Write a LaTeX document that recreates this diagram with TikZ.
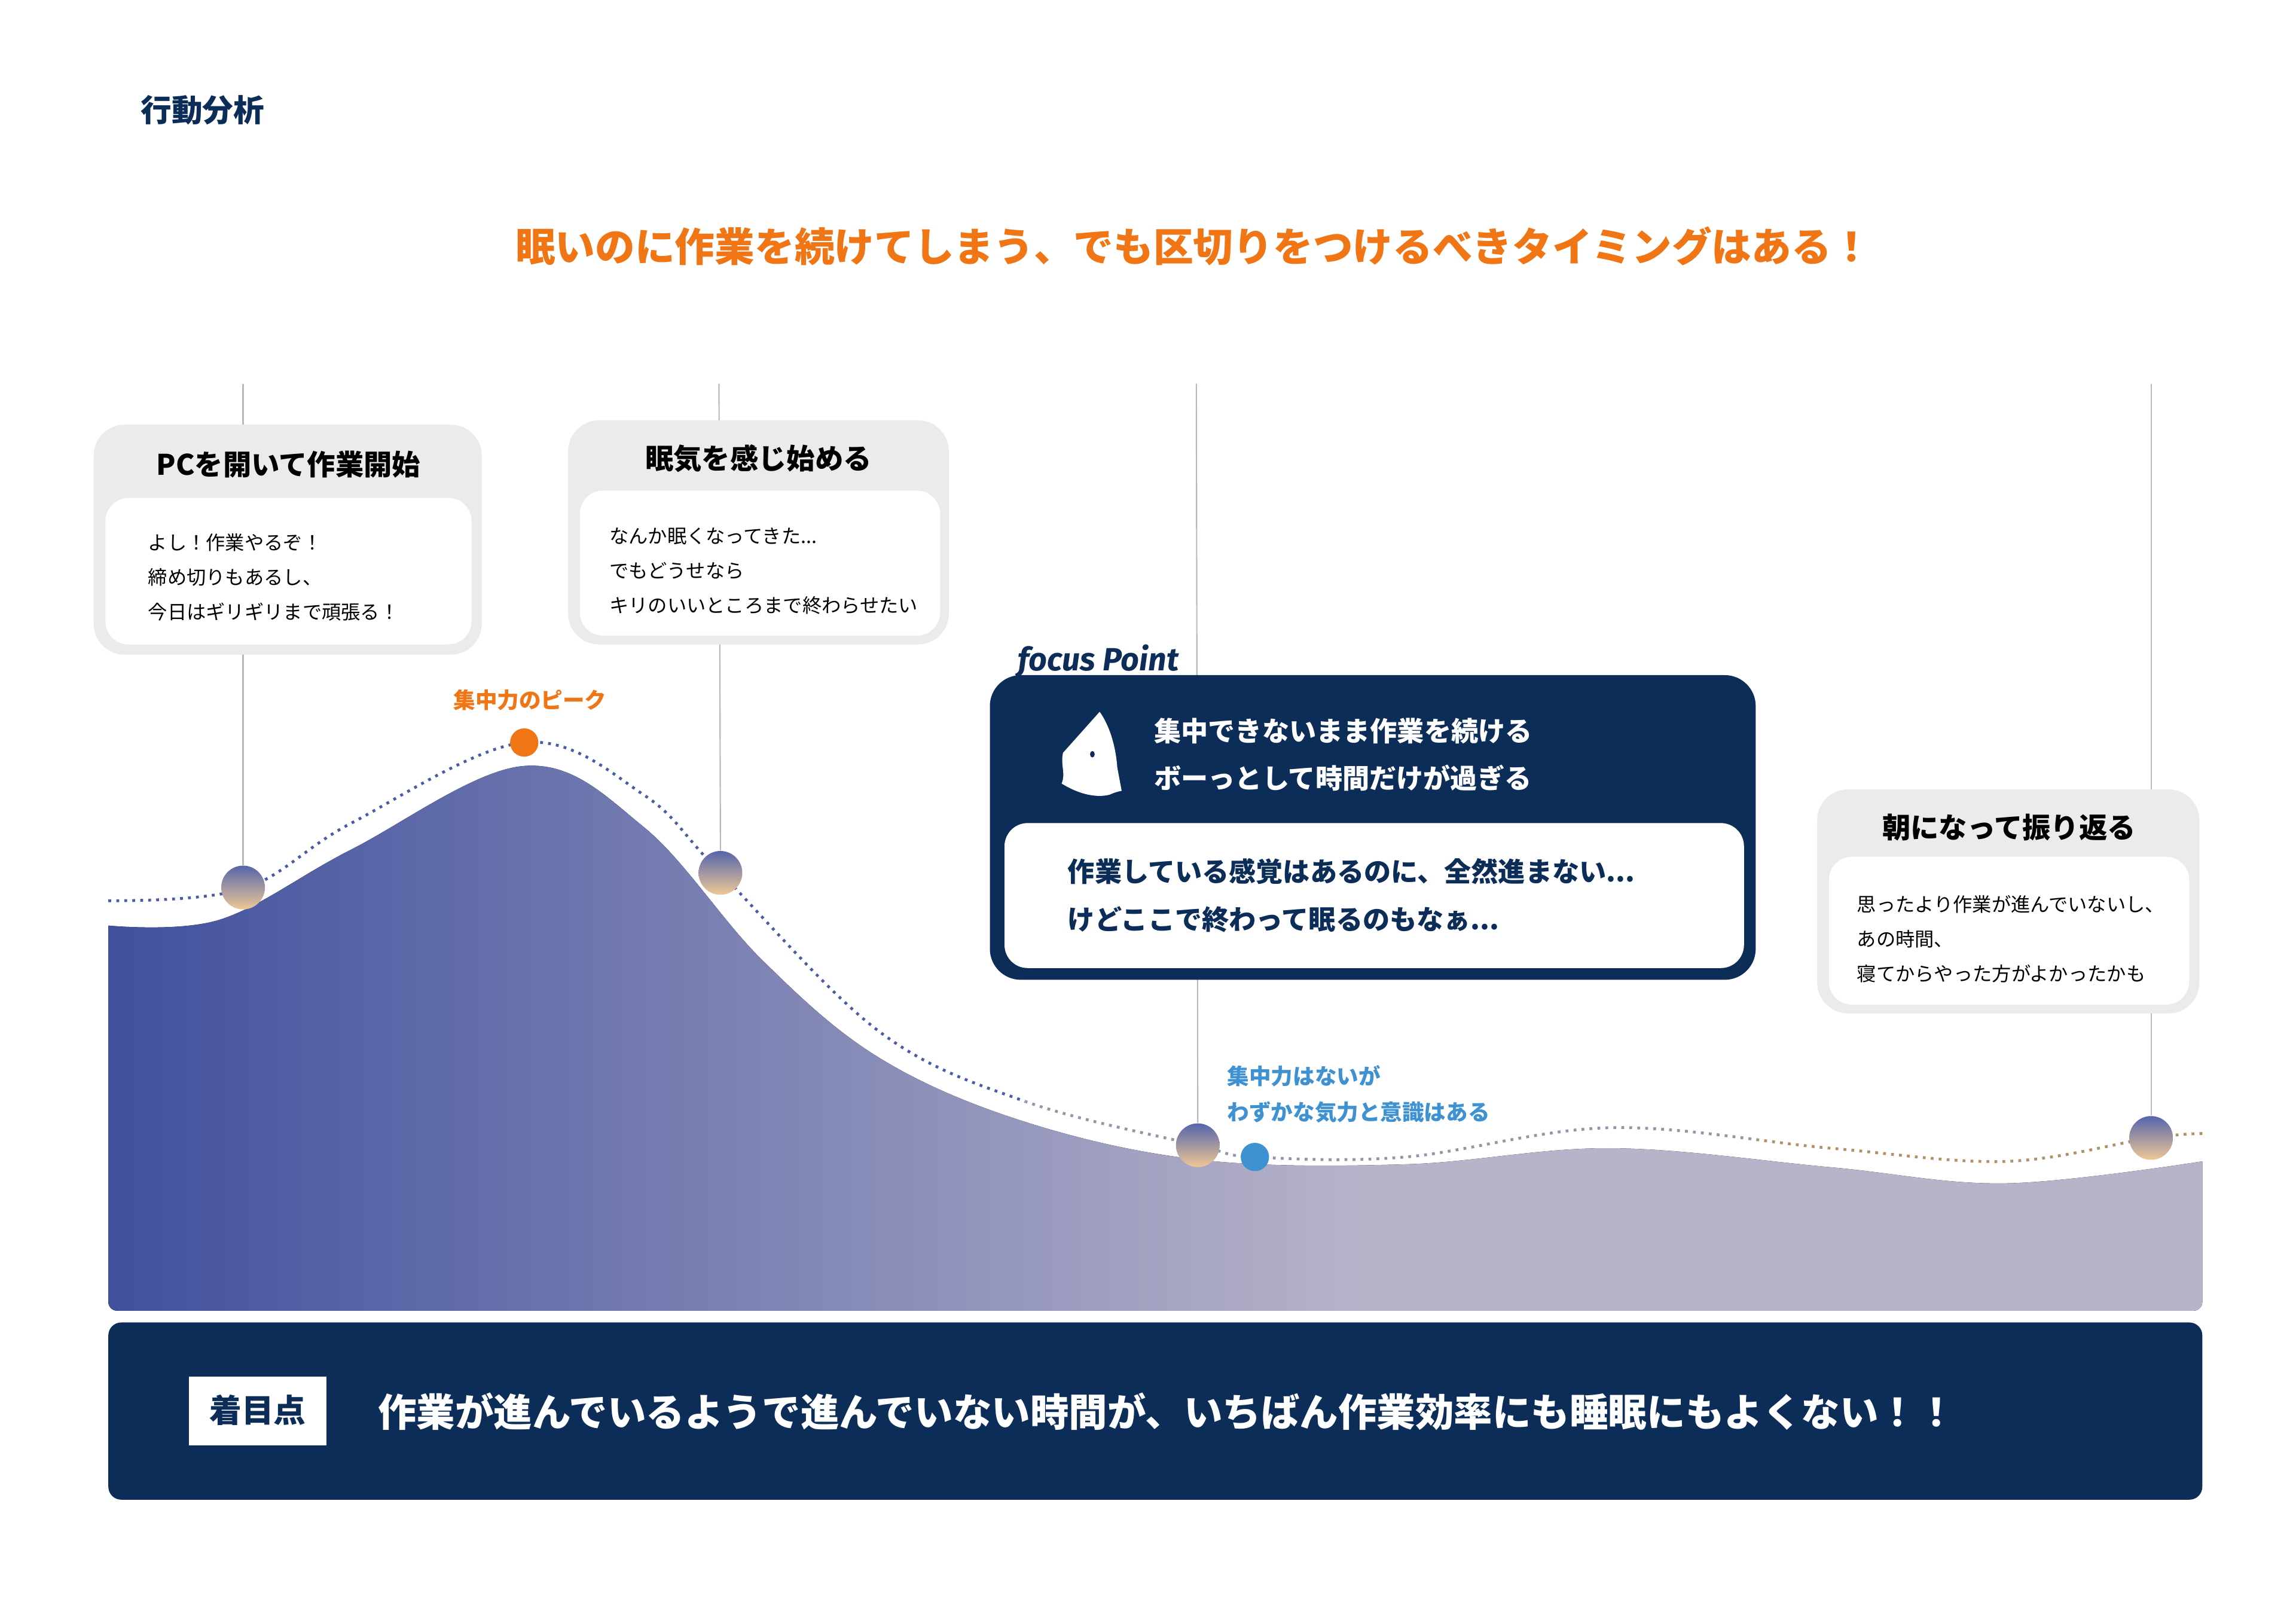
\documentclass[tikz,border=0pt]{standalone}
\usepackage{fontspec}
\setmainfont{Noto Sans CJK JP}
\newfontfamily\fira{Fira Sans}
\usetikzlibrary{shadings}
\definecolor{navy}{HTML}{0B2D57}
\definecolor{ora}{HTML}{F07514}
\definecolor{lblue}{HTML}{3F92D2}
\definecolor{boxgray}{HTML}{EBEBEB}
\definecolor{cblue}{HTML}{2B3F96}
\definecolor{cmid}{HTML}{B7B3C9}
\definecolor{corg}{HTML}{E3A250}
\pgfdeclarehorizontalshading{curveshade}{100bp}{color(0bp)=(cblue);color(25bp)=(cblue!85!cmid);color(55bp)=(cmid);color(85bp)=(cmid);color(100bp)=(corg)}
\tikzset{
  vline/.style={draw=gray!55,line width=0.5pt},
  graybox/.style={fill=boxgray,rounded corners=12pt},
  whitebox/.style={fill=white,rounded corners=9pt},
  marker/.style={circle,minimum size=17,inner sep=0pt,top color=cblue!80,bottom color=corg!60,draw=none},
  dotline/.style={dotted,line width=1.1pt},
  small/.style={font=\fontsize{7.5}{13.5}\selectfont,align=left,anchor=north west},
  btitle/.style={font=\bfseries\fontsize{11}{13}\selectfont},
}
\begin{document}
\begin{tikzpicture}[x=0.02cm,y=-0.02cm]
\useasboundingbox[fill=white] (0,0) rectangle (1568,1108);
% header
\node[anchor=west,text=navy,font=\bfseries\fontsize{12}{14}\selectfont] (hdr) at (90,75) {行動分析};
\node[text=ora,font=\bfseries\fontsize{15.5}{18}\selectfont] (ttl) at (815,168) {眠いのに作業を続けてしまう、でも区切りをつけるべきタイミングはある！};
% curve fill
\fill[shading=curveshade] plot[smooth,tension=0.6] coordinates {(74,632)(150,628)(240,580)(358,523)(440,565)(520,655)(600,722)(700,766)(820,792)(960,795)(1100,784)(1250,797)(1370,808)(1504,793)} -- (1504,889) arc[start angle=0,end angle=90,radius=6] -- (80,895) arc[start angle=90,end angle=180,radius=6] -- cycle;
% dotted line
\def\dpath{plot[smooth,tension=0.6] coordinates {(74,615)(166,607)(240,562)(358,507)(440,543)(492,596)(600,704)(700,752)(818,782)(857,790)(960,790)(1100,770)(1250,784)(1370,793)(1469,777)(1504,774)}}
\begin{scope}\clip (0,0) rectangle (700,1108); \draw[dotline,color=cblue!85] \dpath; \end{scope}
\begin{scope}\clip (700,0) rectangle (1200,1108); \draw[dotline,color=cblue!35!gray!70] \dpath; \end{scope}
\begin{scope}\clip (1200,0) rectangle (1568,1108); \draw[dotline,color=gray!50!corg] \dpath; \end{scope}
% markers
\node[marker] (m1) at (166,606) {};
\node[marker] (m2) at (492,596) {};
\node[marker] (m3) at (818,782) {};
\node[marker] (m4) at (1469,777) {};
\node[circle,fill=ora,minimum size=11,inner sep=0pt] (pk) at (358,507) {};
\node[circle,fill=lblue,minimum size=11,inner sep=0pt] (lo) at (857,790) {};
% vertical lines
\coordinate (t1) at (166,262); \coordinate (t2) at (491,262); \coordinate (t3) at (817,262); \coordinate (t4) at (1469,262);
\draw[vline] (t1) -- (m1.north); \draw[vline] (t2) -- (m2.north);
\draw[vline] (t3) -- (m3.north); \draw[vline] (t4) -- (m4.north);
% box1
\fill[graybox] (64,290) rectangle (329,447);
\fill[whitebox] (72,340) rectangle (322,440);
\node[btitle] (b1) at (197,317) {PCを開いて作業開始};
\node[small] (b1t) at (95,358) {よし！作業やるぞ！\\締め切りもあるし、\\今日はギリギリまで頑張る！};
% box2
\fill[graybox] (388,287) rectangle (648,440);
\fill[whitebox] (396,335) rectangle (642,434);
\node[btitle] (b2) at (518,313) {眠気を感じ始める};
\node[small] (b2t) at (410,354) {なんか眠くなってきた...\\でもどうせなら\\キリのいいところまで終わらせたい};
% box4
\fill[graybox] (1241,539) rectangle (1502,692);
\fill[whitebox] (1249,585) rectangle (1495,686);
\node[btitle] (b4) at (1372,565) {朝になって振り返る};
\node[small] (b4t) at (1262,605) {思ったより作業が進んでいないし、\\あの時間、\\寝てからやった方がよかったかも};
% labels
\node[text=ora,font=\bfseries\fontsize{8.5}{10}\selectfont] (pkl) at (362,478) {集中力のピーク};
\node[text=lblue,font=\bfseries\fontsize{8.5}{14}\selectfont,align=left,anchor=north west] (lol) at (832,721) {集中力はないが\\わずかな気力と意識はある};
% focus box
\node[anchor=south west,text=navy,font=\fira\bfseries\itshape\fontsize{12.5}{14}\selectfont,inner sep=0pt] (fp) at (695,463) {focus Point};
\fill[navy,rounded corners=12pt] (676,461) rectangle (1199,669);
\fill[whitebox] (686,562) rectangle (1191,661);
\fill[white] (751,486) .. controls (758,496) and (762,510) .. (763,524) -- (766,540) .. controls (760,541) and (758,543) .. (756,543) .. controls (745,545) and (733,540) .. (725,535) .. controls (728,528) and (724,522) .. (726,514) -- cycle;
\fill[navy] (746,515) ellipse (1.6 and 2.2);
\node[anchor=north west,text=white,font=\bfseries\fontsize{10.5}{18.5}\selectfont,align=left] (ft) at (782,484) {集中できないまま作業を続ける\\ボーっとして時間だけが過ぎる};
\node[anchor=north west,text=navy,font=\bfseries\fontsize{10.5}{18.5}\selectfont,align=left] (fb) at (723,580) {作業している感覚はあるのに、全然進まない...\\けどここで終わって眠るのもなぁ...};
% bottom banner
\fill[navy,rounded corners=5pt] (74,903) rectangle (1504,1024);
\fill[white] (129,940) rectangle (223,987);
\node[text=navy,font=\bfseries\fontsize{12.5}{14}\selectfont] (bk) at (176,963) {着目点};
\node[anchor=west,text=white,font=\bfseries\fontsize{15}{18}\selectfont] (bt) at (252,964) {作業が進んでいるようで進んでいない時間が、いちばん作業効率にも睡眠にもよくない！！};
\end{tikzpicture}
\end{document}
